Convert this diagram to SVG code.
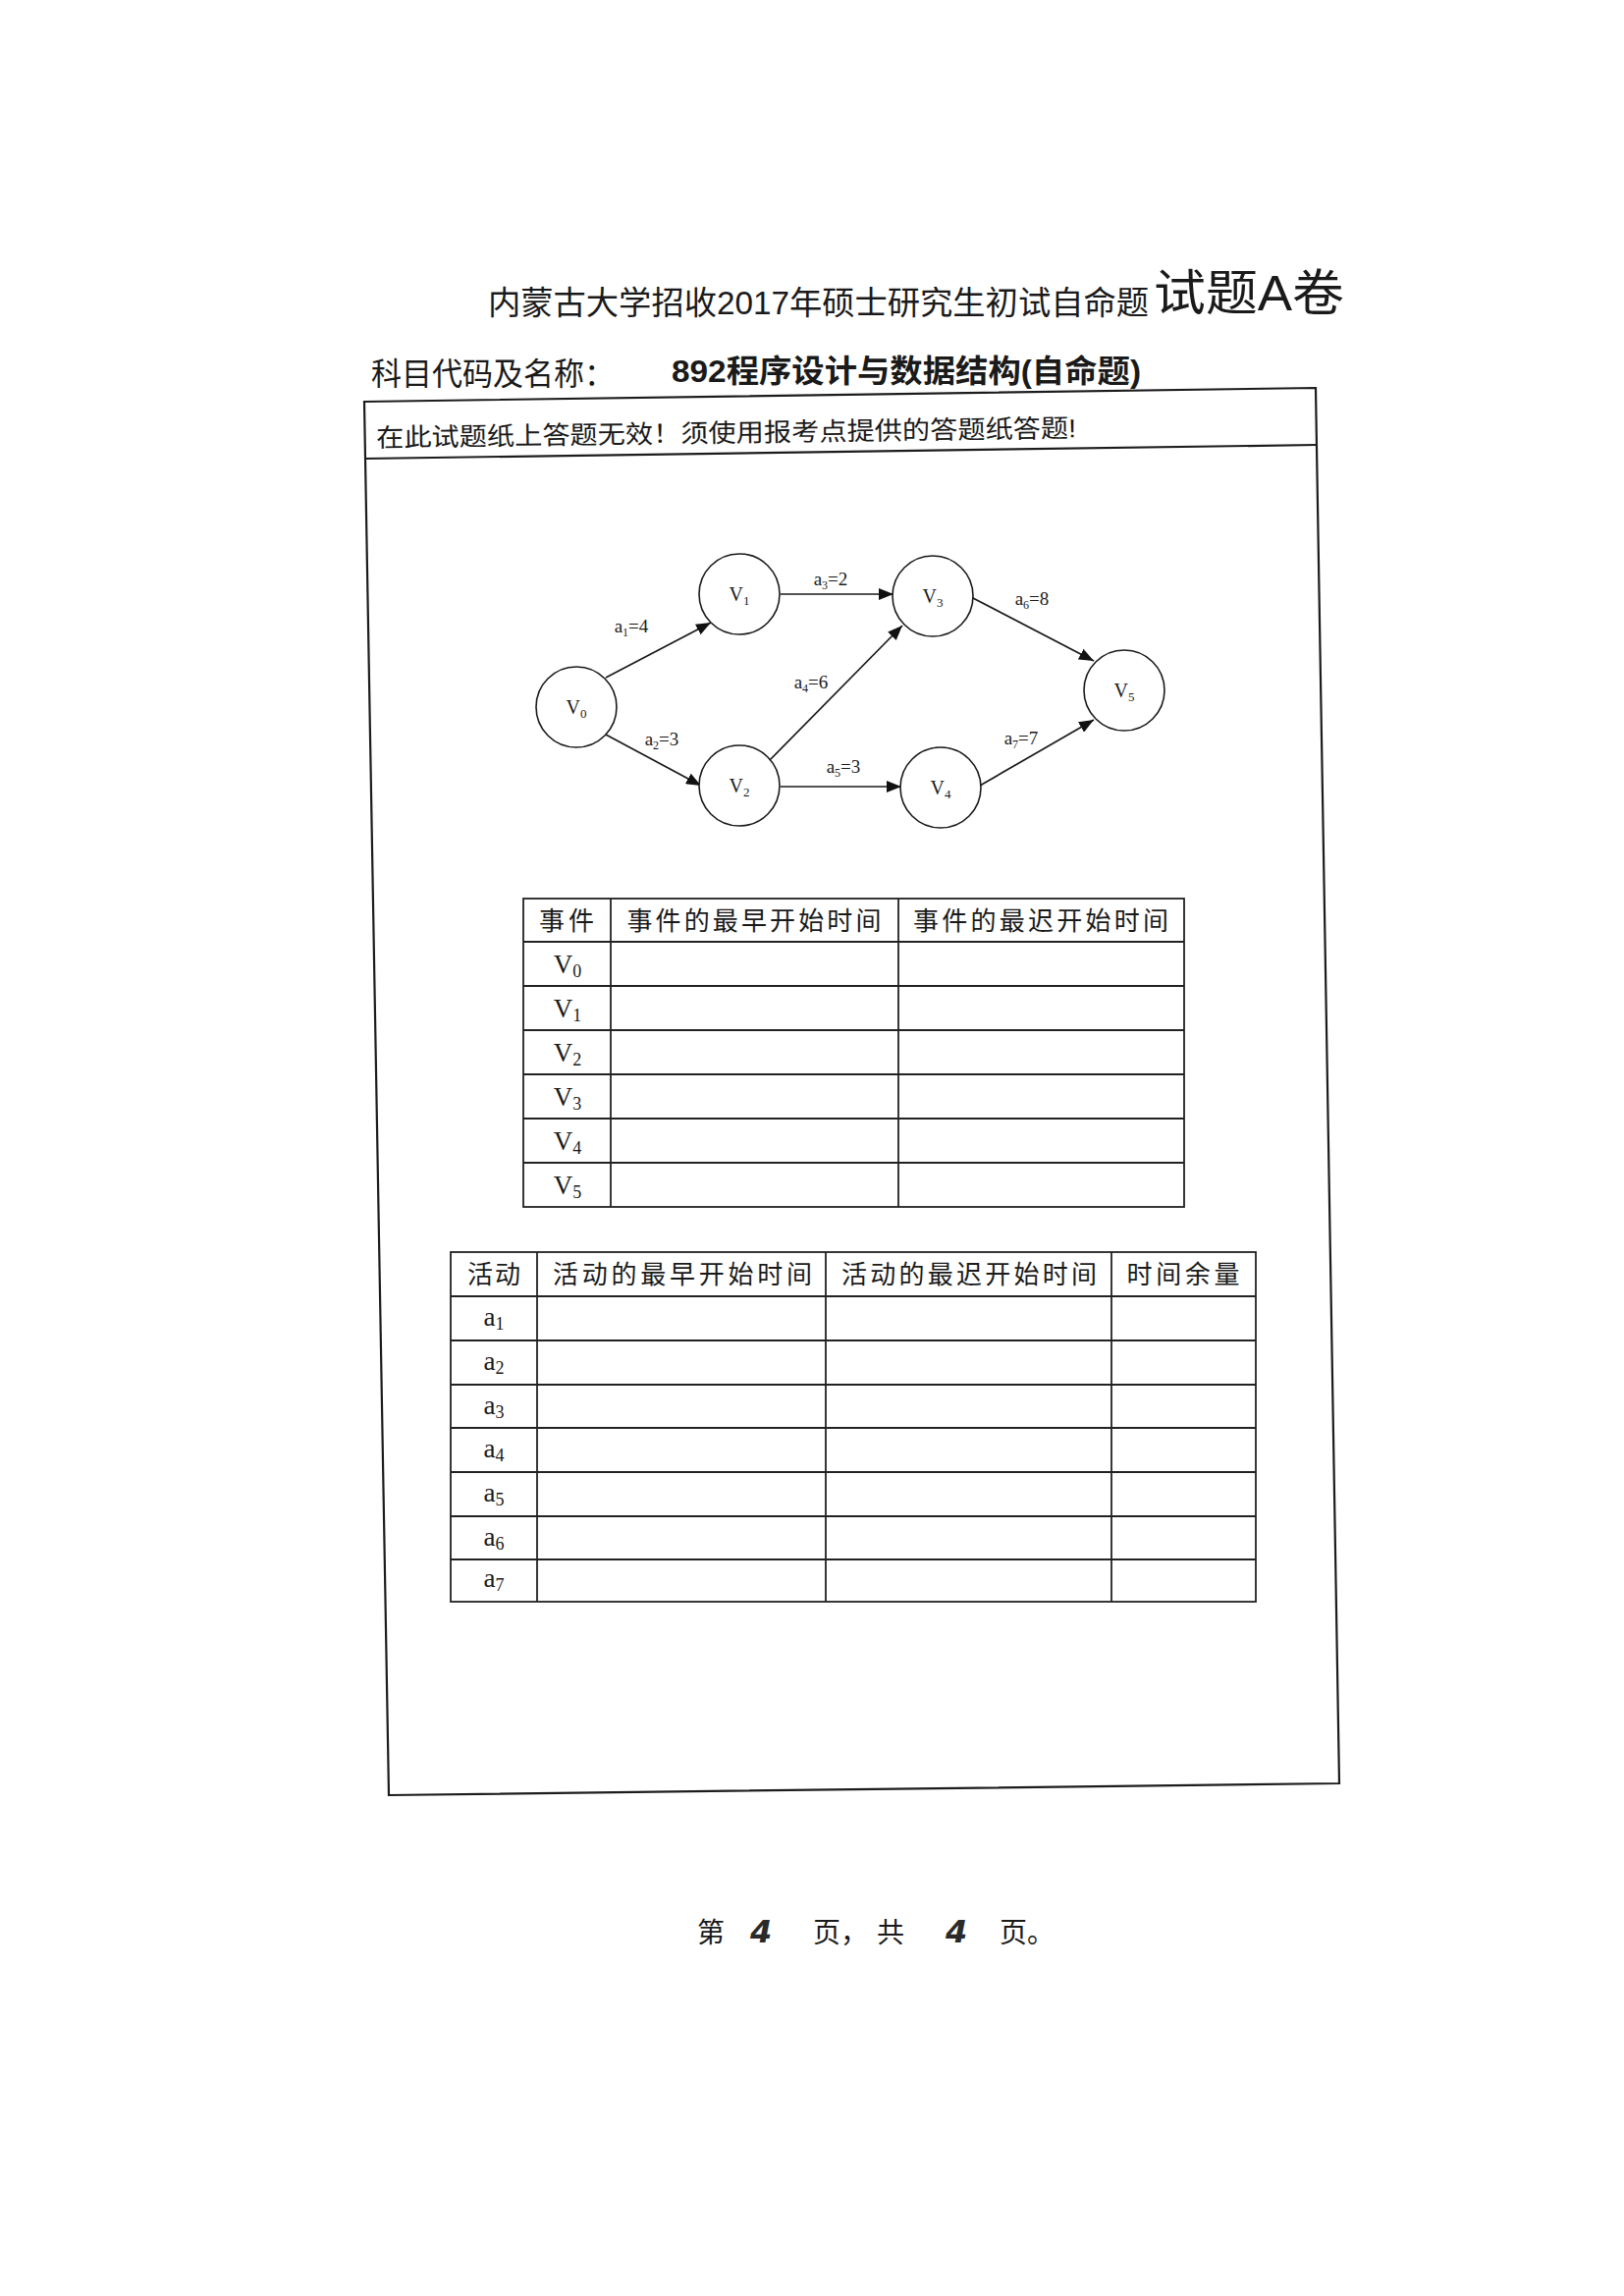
<svg xmlns="http://www.w3.org/2000/svg" width="1654" height="2338" viewBox="0 0 1654 2338">
  <style>
    .cjk { font-family: "Liberation Sans", "Noto Sans CJK SC", sans-serif; fill: #1a1a1a; }
    .serif { font-family: "Liberation Serif", "Times New Roman", serif; fill: #1a1a1a; }
    .node circle { fill: #ffffff; stroke: #1a1a1a; stroke-width: 1.6; }
    .edge { stroke: #1a1a1a; stroke-width: 1.7; fill: none; marker-end: url(#arrow); }
    .frame { fill: none; stroke: #1c1c1c; stroke-width: 2.2; }
    .grid { stroke: #222; stroke-width: 1.8; fill: none; }
    .hand { font-family: "DejaVu Sans", sans-serif; font-weight: bold; font-style: oblique; fill: #2a2a2a; }
  </style>
  <defs>
    <marker id="arrow" markerUnits="userSpaceOnUse" markerWidth="16" markerHeight="12" refX="15" refY="6" orient="auto">
      <path d="M0,0 L15,6 L0,12 z" fill="#111"/>
    </marker>
  </defs>

  <rect x="0" y="0" width="1654" height="2338" fill="#ffffff"/>

  <!-- page heading -->
  <g id="heading">
    <text class="cjk" x="497" y="320" font-size="33" textLength="673" lengthAdjust="spacingAndGlyphs">内蒙古大学招收2017年硕士研究生初试自命题</text>
    <text class="cjk" x="1175" y="316" font-size="50" textLength="194" lengthAdjust="spacingAndGlyphs">试题A卷</text>
    <text class="cjk" x="378" y="392" font-size="32" textLength="248" lengthAdjust="spacingAndGlyphs">科目代码及名称：</text>
    <text class="cjk" x="684" y="389" font-size="32" font-weight="bold" textLength="478" lengthAdjust="spacingAndGlyphs">892程序设计与数据结构(自命题)</text>
  </g>

  <!-- answer sheet frame -->
  <g id="frame">
    <polygon class="frame" points="371,409 1340,395 1364,1816 396,1828"/>
    <line class="frame" x1="372" y1="467" x2="1341" y2="453"/>
    <text class="cjk" x="383" y="450" font-size="26" textLength="713" lengthAdjust="spacingAndGlyphs" transform="rotate(-0.8 740 440)">在此试题纸上答题无效！须使用报考点提供的答题纸答题!</text>
  </g>

  <!-- AOE network -->
  <g id="connectors">
    <line class="edge" x1="617" y1="690" x2="724" y2="634"/>
    <line class="edge" x1="617" y1="748" x2="714" y2="800"/>
    <line class="edge" x1="795" y1="605" x2="910" y2="605"/>
    <line class="edge" x1="783" y1="775" x2="919" y2="637"/>
    <line class="edge" x1="795" y1="801" x2="918" y2="801"/>
    <line class="edge" x1="989" y1="608" x2="1114" y2="673"/>
    <line class="edge" x1="998" y1="800" x2="1114" y2="733"/>
    <text class="serif" x="643" y="644" font-size="19" text-anchor="middle">a<tspan font-size="12" dy="4">1</tspan><tspan dy="-4">=4</tspan></text>
    <text class="serif" x="674" y="759" font-size="19" text-anchor="middle">a<tspan font-size="12" dy="4">2</tspan><tspan dy="-4">=3</tspan></text>
    <text class="serif" x="846" y="596" font-size="19" text-anchor="middle">a<tspan font-size="12" dy="4">3</tspan><tspan dy="-4">=2</tspan></text>
    <text class="serif" x="826" y="701" font-size="19" text-anchor="middle">a<tspan font-size="12" dy="4">4</tspan><tspan dy="-4">=6</tspan></text>
    <text class="serif" x="859" y="787" font-size="19" text-anchor="middle">a<tspan font-size="12" dy="4">5</tspan><tspan dy="-4">=3</tspan></text>
    <text class="serif" x="1051" y="616" font-size="19" text-anchor="middle">a<tspan font-size="12" dy="4">6</tspan><tspan dy="-4">=8</tspan></text>
    <text class="serif" x="1040" y="758" font-size="19" text-anchor="middle">a<tspan font-size="12" dy="4">7</tspan><tspan dy="-4">=7</tspan></text>
  </g>

  <g id="v0" class="node"><circle cx="587" cy="720" r="41"/><text class="serif" x="587" y="727" font-size="20" text-anchor="middle">V<tspan font-size="13" dy="4">0</tspan></text></g>
  <g id="v1" class="node"><circle cx="753" cy="605" r="41"/><text class="serif" x="753" y="612" font-size="20" text-anchor="middle">V<tspan font-size="13" dy="4">1</tspan></text></g>
  <g id="v2" class="node"><circle cx="753" cy="800" r="41"/><text class="serif" x="753" y="807" font-size="20" text-anchor="middle">V<tspan font-size="13" dy="4">2</tspan></text></g>
  <g id="v3" class="node"><circle cx="950" cy="607" r="41"/><text class="serif" x="950" y="614" font-size="20" text-anchor="middle">V<tspan font-size="13" dy="4">3</tspan></text></g>
  <g id="v4" class="node"><circle cx="958" cy="802" r="41"/><text class="serif" x="958" y="809" font-size="20" text-anchor="middle">V<tspan font-size="13" dy="4">4</tspan></text></g>
  <g id="v5" class="node"><circle cx="1145" cy="703" r="41"/><text class="serif" x="1145" y="710" font-size="20" text-anchor="middle">V<tspan font-size="13" dy="4">5</tspan></text></g>

  <!-- event table -->
  <g id="event-table">
    <rect class="grid" x="533" y="915" width="673" height="314"/>
    <line class="grid" x1="622" y1="915" x2="622" y2="1229"/>
    <line class="grid" x1="915" y1="915" x2="915" y2="1229"/>
    <line class="grid" x1="533" y1="959" x2="1206" y2="959"/>
    <line class="grid" x1="533" y1="1004" x2="1206" y2="1004"/>
    <line class="grid" x1="533" y1="1049" x2="1206" y2="1049"/>
    <line class="grid" x1="533" y1="1094" x2="1206" y2="1094"/>
    <line class="grid" x1="533" y1="1139" x2="1206" y2="1139"/>
    <line class="grid" x1="533" y1="1184" x2="1206" y2="1184"/>
    <text class="cjk" x="577" y="947" font-size="26" text-anchor="middle" textLength="56">事件</text>
    <text class="cjk" x="768" y="947" font-size="26" text-anchor="middle" textLength="259">事件的最早开始时间</text>
    <text class="cjk" x="1060" y="947" font-size="26" text-anchor="middle" textLength="260">事件的最迟开始时间</text>
    <text class="serif" x="578" y="991" font-size="27" text-anchor="middle">V<tspan font-size="18" dy="4">0</tspan></text>
    <text class="serif" x="578" y="1036" font-size="27" text-anchor="middle">V<tspan font-size="18" dy="4">1</tspan></text>
    <text class="serif" x="578" y="1081" font-size="27" text-anchor="middle">V<tspan font-size="18" dy="4">2</tspan></text>
    <text class="serif" x="578" y="1126" font-size="27" text-anchor="middle">V<tspan font-size="18" dy="4">3</tspan></text>
    <text class="serif" x="578" y="1171" font-size="27" text-anchor="middle">V<tspan font-size="18" dy="4">4</tspan></text>
    <text class="serif" x="578" y="1216" font-size="27" text-anchor="middle">V<tspan font-size="18" dy="4">5</tspan></text>
  </g>

  <!-- activity table -->
  <g id="activity-table">
    <rect class="grid" x="459" y="1275" width="820" height="356"/>
    <line class="grid" x1="547" y1="1275" x2="547" y2="1631"/>
    <line class="grid" x1="841" y1="1275" x2="841" y2="1631"/>
    <line class="grid" x1="1132" y1="1275" x2="1132" y2="1631"/>
    <line class="grid" x1="459" y1="1320" x2="1279" y2="1320"/>
    <line class="grid" x1="459" y1="1365" x2="1279" y2="1365"/>
    <line class="grid" x1="459" y1="1410" x2="1279" y2="1410"/>
    <line class="grid" x1="459" y1="1454" x2="1279" y2="1454"/>
    <line class="grid" x1="459" y1="1499" x2="1279" y2="1499"/>
    <line class="grid" x1="459" y1="1544" x2="1279" y2="1544"/>
    <line class="grid" x1="459" y1="1588" x2="1279" y2="1588"/>
    <text class="cjk" x="503" y="1307" font-size="26" text-anchor="middle" textLength="54">活动</text>
    <text class="cjk" x="695" y="1307" font-size="26" text-anchor="middle" textLength="264">活动的最早开始时间</text>
    <text class="cjk" x="987" y="1307" font-size="26" text-anchor="middle" textLength="260">活动的最迟开始时间</text>
    <text class="cjk" x="1205" y="1307" font-size="26" text-anchor="middle" textLength="115">时间余量</text>
    <text class="serif" x="503" y="1350" font-size="27" text-anchor="middle">a<tspan font-size="18" dy="4">1</tspan></text>
    <text class="serif" x="503" y="1395" font-size="27" text-anchor="middle">a<tspan font-size="18" dy="4">2</tspan></text>
    <text class="serif" x="503" y="1440" font-size="27" text-anchor="middle">a<tspan font-size="18" dy="4">3</tspan></text>
    <text class="serif" x="503" y="1484" font-size="27" text-anchor="middle">a<tspan font-size="18" dy="4">4</tspan></text>
    <text class="serif" x="503" y="1529" font-size="27" text-anchor="middle">a<tspan font-size="18" dy="4">5</tspan></text>
    <text class="serif" x="503" y="1574" font-size="27" text-anchor="middle">a<tspan font-size="18" dy="4">6</tspan></text>
    <text class="serif" x="503" y="1616" font-size="27" text-anchor="middle">a<tspan font-size="18" dy="4">7</tspan></text>
  </g>

  <!-- page footer -->
  <g id="footer">
    <text class="cjk" x="710" y="1978" font-size="28">第</text>
    <text class="hand" x="764" y="1978" font-size="32">4</text>
    <text class="cjk" x="828" y="1978" font-size="28">页，</text>
    <text class="cjk" x="893" y="1978" font-size="28">共</text>
    <text class="hand" x="963" y="1978" font-size="32">4</text>
    <text class="cjk" x="1018" y="1978" font-size="28">页。</text>
  </g>
</svg>
